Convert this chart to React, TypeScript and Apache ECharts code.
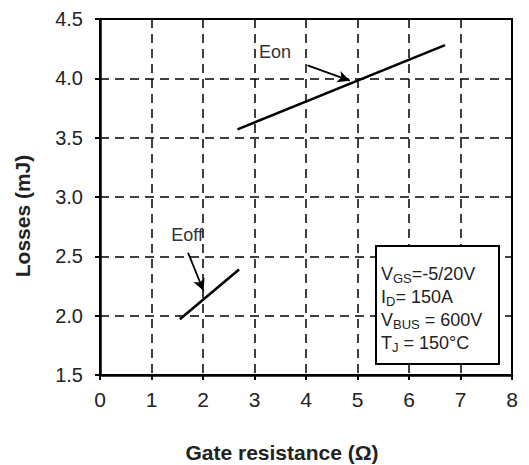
import React, { useEffect, useRef } from "react";
import * as echarts from "echarts";

const xTicks = [0, 1, 2, 3, 4, 5, 6, 7, 8];
const yTicks = [1.5, 2.0, 2.5, 3.0, 3.5, 4.0, 4.5];
const eonData: [number, number][] = [
  [2.67, 3.57],
  [6.7, 4.28],
];
const eoffData: [number, number][] = [
  [1.55, 1.97],
  [2.7, 2.39],
];
const eonArrow: [number, number][] = [
  [4.03, 4.11],
  [4.85, 3.98],
];
const eoffArrow: [number, number][] = [
  [1.71, 2.53],
  [2.01, 2.21],
];
const eonLabelPos: [number, number] = [3.4, 4.22];
const eoffLabelPos: [number, number] = [1.69, 2.68];
const conditions = [
  "V{s|GS}=-5/20V",
  "I{s|D}= 150A",
  "V{s|BUS} = 600V",
  "T{s|J} = 150°C",
];

export default function App() {
  const ref = useRef<HTMLDivElement>(null);
  useEffect(() => {
    if (!ref.current) return;
    const chart = echarts.init(ref.current, null, { renderer: "svg" });
    const font = "Liberation Sans, Arial, sans-serif";
    const makeSeries = (name: string, data: [number, number][], arrow: [number, number][], labelPos: [number, number]) => ({
      name,
      type: "line",
      data,
      showSymbol: false,
      symbol: "none",
      lineStyle: { color: "#000", width: 2.6 },
      z: 5,
      markLine: {
        silent: true,
        symbol: ["none", "arrow"],
        symbolSize: [9, 12],
        label: { show: false },
        lineStyle: { color: "#000", width: 1.8, type: "solid" },
        data: [[{ coord: arrow[0] }, { coord: arrow[1] }]],
      },
      markPoint: {
        silent: true,
        symbol: "circle",
        symbolSize: 0,
        label: {
          show: true,
          position: "inside",
          formatter: name,
          color: "#333",
          fontSize: 18,
          fontFamily: font,
        },
        data: [{ coord: labelPos }],
      },
    });
    chart.setOption({
      animation: false,
      grid: {
        left: 100,
        top: 19,
        right: 17,
        bottom: 90,
        show: true,
        borderColor: "#000",
        borderWidth: 2,
        backgroundColor: "transparent",
      },
      xAxis: {
        type: "value",
        min: xTicks[0],
        max: xTicks[xTicks.length - 1],
        interval: 1,
        axisLine: { show: true, lineStyle: { color: "#000", width: 2.5 } },
        axisTick: { show: true, length: 5, lineStyle: { color: "#000", width: 2 } },
        axisLabel: { color: "#222", fontSize: 21, fontFamily: font, margin: 14 },
        splitLine: { show: true, lineStyle: { color: "#000", width: 1.5, type: [9, 6] } },
      },
      yAxis: {
        type: "value",
        min: yTicks[0],
        max: yTicks[yTicks.length - 1],
        interval: 0.5,
        axisLine: { show: true, lineStyle: { color: "#000", width: 2.5 } },
        axisTick: { show: true, length: 5, lineStyle: { color: "#000", width: 2 } },
        axisLabel: {
          color: "#222",
          fontSize: 20,
          fontFamily: font,
          margin: 17,
          formatter: (v: number) => v.toFixed(1),
        },
        splitLine: { show: true, lineStyle: { color: "#000", width: 1.5, type: [9, 6] } },
      },
      series: [
        makeSeries("Eon", eonData, eonArrow, eonLabelPos),
        makeSeries("Eoff", eoffData, eoffArrow, eoffLabelPos),
      ],
      graphic: [
        {
          type: "rect",
          shape: { x: 376, y: 246, width: 123, height: 118 },
          style: { fill: "#fff", stroke: "#000", lineWidth: 2 },
          z: 10,
        },
        {
          type: "text",
          x: 381,
          y: 262,
          z: 11,
          style: {
            text: conditions.join("\n"),
            fill: "#222",
            fontSize: 18,
            fontFamily: font,
            lineHeight: 23,
            rich: {
              s: { fontSize: 13, fill: "#222", fontFamily: font, verticalAlign: "bottom", padding: [6, 0, 0, 0], lineHeight: 23 },
            },
          },
        },
        {
          type: "text",
          x: 282,
          y: 452,
          z: 11,
          style: {
            text: "Gate resistance (Ω)",
            fill: "#222",
            fontSize: 21,
            fontWeight: "bold",
            fontFamily: font,
            align: "center",
            verticalAlign: "middle",
          },
        },
        {
          type: "text",
          x: 22,
          y: 216,
          rotation: Math.PI / 2,
          z: 11,
          style: {
            text: "Losses (mJ)",
            fill: "#222",
            fontSize: 21,
            fontWeight: "bold",
            fontFamily: font,
            align: "center",
            verticalAlign: "middle",
          },
        },
      ],
    });
    return () => chart.dispose();
  }, []);
  return (
    <div
      ref={ref}
      style={{ position: "absolute", left: 0, top: 0, width: 529, height: 465, background: "#fff" }}
    />
  );
}
